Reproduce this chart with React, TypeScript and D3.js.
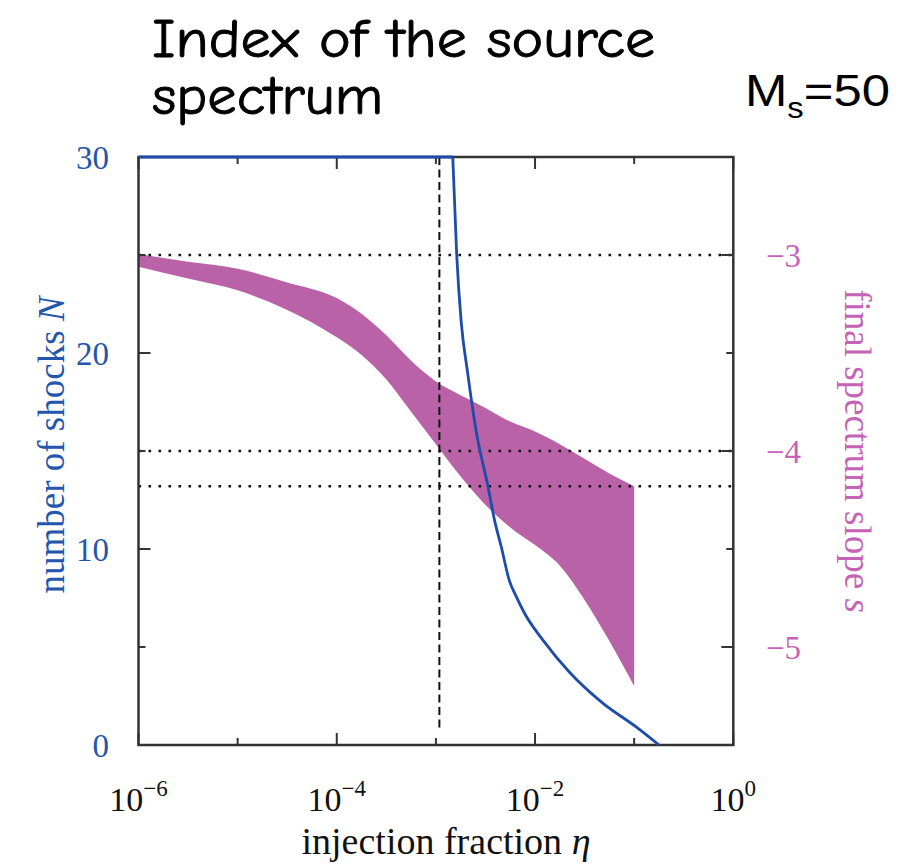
import React from "react";
import * as d3 from "d3";

// ---- data ----
const blueLogEta = [-6, -2.83, -2.79, -2.745, -2.68, -2.59, -2.475, -2.41, -2.34, -2.26, -2.189, -2.106, -1.92, -1.65, -1.32, -0.98, -0.75];
const blueN = [30, 30, 25, 21.6, 19.0, 15.9, 13.2, 11.5, 10.1, 8.4, 7.57, 6.72, 5.35, 3.7, 2.15, 0.92, 0];

const bandLogEta = [-6, -5.5, -5, -4.5, -4, -3.75, -3.5, -3.25, -3, -2.75, -2.5, -2.25, -2, -1.75, -1.5, -1.25, -1.0];
const bandUpper = [-2.995, -3.035, -3.07, -3.14, -3.22, -3.30, -3.41, -3.54, -3.645, -3.715, -3.78, -3.85, -3.90, -3.965, -4.04, -4.115, -4.18];
const bandLower = [-3.06, -3.12, -3.18, -3.28, -3.42, -3.51, -3.635, -3.80, -3.965, -4.13, -4.275, -4.39, -4.48, -4.585, -4.76, -4.97, -5.20];

const dottedSlopes = [-3, -4, -4.18];
const dashedLogEta = -2.965;

const leftTickLabels = [0, 10, 20, 30];
const leftMinorTicks = [5, 15, 25];
const rightTickLabels = [-3, -4, -5];
const rightMinorTicks = [-3.5, -4.5];
const xLabelExps = [-6, -4, -2, 0];
const xMinorExps = [-5, -3, -1];

const titleLines = ["Index of the source", "spectrum"];

// ---- layout ----
const W = 913, H = 864;
const X0 = 138.5, X1 = 733.3, Y0 = 157, Y1 = 745;
const BLUE = "#1d4cab";
const BLUE_TXT = "#2456ad";
const PINK_FILL = "#ba62a8";
const PINK_TXT = "#c563b6";
const SERIF = "'Liberation Serif', 'DejaVu Serif', serif";
const COMIC = "'Comic Sans MS', 'Comic Neue', 'DejaVu Sans', sans-serif";

export default function App() {
  const x = d3.scaleLog().domain([1e-6, 1]).range([X0, X1]);
  const yN = d3.scaleLinear().domain([0, 30]).range([Y1, Y0]);
  const yS = d3.scaleLinear().domain([-5.5, -2.5]).range([Y1, Y0]);

  const bandData = bandLogEta.map((e, i) => ({ e, u: bandUpper[i], l: bandLower[i] }));
  const area = d3
    .area<{ e: number; u: number; l: number }>()
    .x((d) => x(Math.pow(10, d.e)))
    .y0((d) => yS(d.l))
    .y1((d) => yS(d.u))
    .curve(d3.curveMonotoneX);

  const blueData = blueLogEta.map((e, i) => ({ e, n: blueN[i] }));
  const flatLine = d3
    .line<{ e: number; n: number }>()
    .x((d) => x(Math.pow(10, d.e)))
    .y((d) => yN(d.n));
  const curveLine = d3
    .line<{ e: number; n: number }>()
    .x((d) => x(Math.pow(10, d.e)))
    .y((d) => yN(d.n))
    .curve(d3.curveMonotoneX);

  const majorLen = 12, minorLen = 7;
  const frameColor = "#333";

  return (
    <svg width={W} height={H} style={{ display: "block", position: "absolute", left: 0, top: 0 }}>
      <rect width={W} height={H} fill="#fff" />
      {/* title */}
      <text
        x={152}
        y={57}
        fontFamily={COMIC}
        fontSize={54}
        textLength={503}
        lengthAdjust="spacingAndGlyphs"
        fill="#000"
        stroke="#000"
        strokeWidth={0.9}
      >
        {titleLines[0]}
      </text>
      <text
        x={152}
        y={114}
        fontFamily={COMIC}
        fontSize={54}
        textLength={231}
        lengthAdjust="spacingAndGlyphs"
        fill="#000"
        stroke="#000"
        strokeWidth={0.9}
      >
        {titleLines[1]}
      </text>
      <text
        x={745}
        y={106}
        fontFamily="'Liberation Sans', Arial, sans-serif"
        fontSize={45}
        fill="#000"
        textLength={145}
        lengthAdjust="spacingAndGlyphs"
      >
        M
        <tspan fontSize={29} dy={12}>s</tspan>
        <tspan dy={-12}>=50</tspan>
      </text>

      {/* band */}
      <path d={area(bandData) || ""} fill={PINK_FILL} />

      {/* dotted lines */}
      {dottedSlopes.map((s) => (
        <line
          key={s}
          x1={X0}
          x2={X1}
          y1={yS(s)}
          y2={yS(s)}
          stroke="#111"
          strokeWidth={2.6}
          strokeDasharray="2.6 7.4"
        />
      ))}
      {/* dashed vertical */}
      <line
        x1={x(Math.pow(10, dashedLogEta))}
        x2={x(Math.pow(10, dashedLogEta))}
        y1={Y0}
        y2={Y1 - 16}
        stroke="#111"
        strokeWidth={2}
        strokeDasharray="8 4.5"
      />

      {/* frame */}
      <rect x={X0} y={Y0} width={X1 - X0} height={Y1 - Y0} fill="none" stroke={frameColor} strokeWidth={2.5} />

      {/* left ticks */}
      {leftTickLabels.map((v) => (
        <line key={"lt" + v} x1={X0} x2={X0 + majorLen} y1={yN(v)} y2={yN(v)} stroke={frameColor} strokeWidth={2} />
      ))}
      {leftMinorTicks.map((v) => (
        <line key={"lm" + v} x1={X0} x2={X0 + minorLen} y1={yN(v)} y2={yN(v)} stroke={frameColor} strokeWidth={2} />
      ))}
      {/* right ticks */}
      {rightTickLabels.map((v) => (
        <line key={"rt" + v} x1={X1} x2={X1 - majorLen} y1={yS(v)} y2={yS(v)} stroke={frameColor} strokeWidth={2} />
      ))}
      {rightMinorTicks.map((v) => (
        <line key={"rm" + v} x1={X1} x2={X1 - minorLen} y1={yS(v)} y2={yS(v)} stroke={frameColor} strokeWidth={2} />
      ))}
      {/* x ticks top and bottom */}
      {xLabelExps.map((e) => (
        <g key={"xt" + e}>
          <line x1={x(Math.pow(10, e))} x2={x(Math.pow(10, e))} y1={Y1} y2={Y1 - majorLen} stroke={frameColor} strokeWidth={2} />
          <line x1={x(Math.pow(10, e))} x2={x(Math.pow(10, e))} y1={Y0} y2={Y0 + majorLen} stroke={frameColor} strokeWidth={2} />
        </g>
      ))}
      {xMinorExps.map((e) => (
        <g key={"xm" + e}>
          <line x1={x(Math.pow(10, e))} x2={x(Math.pow(10, e))} y1={Y1} y2={Y1 - minorLen} stroke={frameColor} strokeWidth={2} />
          <line x1={x(Math.pow(10, e))} x2={x(Math.pow(10, e))} y1={Y0} y2={Y0 + minorLen} stroke={frameColor} strokeWidth={2} />
        </g>
      ))}

      {/* blue curve */}
      <path d={flatLine(blueData.slice(0, 2)) || ""} fill="none" stroke={BLUE} strokeWidth={3} />
      <path d={curveLine(blueData.slice(1)) || ""} fill="none" stroke={BLUE} strokeWidth={2.8} strokeLinejoin="round" />

      {/* left labels */}
      {leftTickLabels.map((v) => (
        <text
          key={"ll" + v}
          x={109}
          y={yN(v)}
          dy="0.35em"
          textAnchor="end"
          fontFamily={SERIF}
          fontSize={33}
          fill={BLUE_TXT}
        >
          {v}
        </text>
      ))}
      {/* right labels */}
      {rightTickLabels.map((v) => (
        <text
          key={"rl" + v}
          x={766}
          y={yS(v)}
          dy="0.35em"
          textAnchor="start"
          fontFamily={SERIF}
          fontSize={33}
          fill={PINK_TXT}
        >
          {"\u2212" + Math.abs(v)}
        </text>
      ))}
      {/* x labels */}
      {xLabelExps.map((e) => (
        <text
          key={"xl" + e}
          x={x(Math.pow(10, e))}
          y={811}
          textAnchor="middle"
          fontFamily={SERIF}
          fontSize={34}
          fill="#111"
        >
          10
          <tspan fontSize={23} dy={-15}>
            {e === 0 ? "0" : "\u2212" + Math.abs(e)}
          </tspan>
        </text>
      ))}

      {/* axis titles */}
      <text
        transform={`translate(64, 445) rotate(-90)`}
        textAnchor="middle"
        fontFamily={SERIF}
        fontSize={37}
        fill={BLUE_TXT}
      >
        number of shocks <tspan fontStyle="italic">N</tspan>
      </text>
      <text
        transform={`translate(845, 451) rotate(90)`}
        textAnchor="middle"
        fontFamily={SERIF}
        fontSize={37}
        fill={PINK_TXT}
      >
        final spectrum slope <tspan fontStyle="italic">s</tspan>
      </text>
      <text x={446} y={854} textAnchor="middle" fontFamily={SERIF} fontSize={38} fill="#111">
        injection fraction <tspan fontStyle="italic">η</tspan>
      </text>
    </svg>
  );
}
